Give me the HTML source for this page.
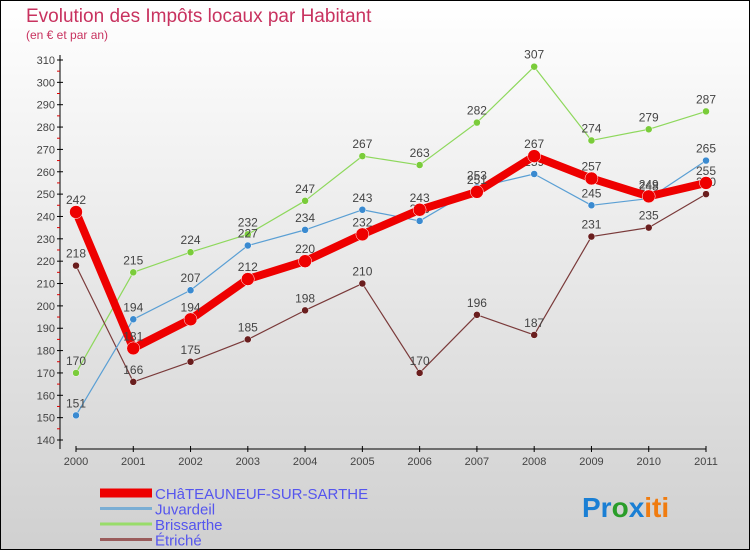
<!DOCTYPE html>
<html><head><meta charset="utf-8"><style>
body{margin:0}
#c{width:750px;height:550px;position:relative;font-family:"Liberation Sans",sans-serif;}
</style></head><body>
<div id="c">
<svg id="s" width="750" height="550" xmlns="http://www.w3.org/2000/svg">
<defs><linearGradient id="bg" x1="0" y1="0" x2="0" y2="1"><stop offset="0" stop-color="#ffffff"/><stop offset="1" stop-color="#d0d0d0"/></linearGradient></defs>
<rect x="0.5" y="0.5" width="749" height="549" fill="url(#bg)" stroke="#000"/>
<text x="26" y="22" font-size="19" fill="#c8325f">Evolution des Impôts locaux par Habitant</text>
<text x="26" y="39" font-size="12" fill="#c8325f">(en € et par an)</text>
<g id="axes"></g><g id="series"></g><g id="legend"></g>
<text x="582" y="517" font-size="28" font-weight="bold"><tspan fill="#1a7fd4">Pr</tspan><tspan fill="#2a9d2a">o</tspan><tspan fill="#1a7fd4">x</tspan><tspan fill="#f07c10">iti</tspan></text>
</svg>
</div>
<script>
const years=[2000,2001,2002,2003,2004,2005,2006,2007,2008,2009,2010,2011];
const yTicks=[140,150,160,170,180,190,200,210,220,230,240,250,260,270,280,290,300,310];
const seriesNames=["CHâTEAUNEUF-SUR-SARTHE","Juvardeil","Brissarthe","Étriché"];
const chateauneuf=[242,181,194,212,220,232,243,251,267,257,249,255];
const juvardeil=[151,194,207,227,234,243,238,253,259,245,248,265];
const brissarthe=[170,215,224,232,247,267,263,282,307,274,279,287];
const etriche=[218,166,175,185,198,210,170,196,187,231,235,250];
const NS="http://www.w3.org/2000/svg";
const xS=i=>76+i*(630/11);
const yS=v=>440-(v-140)*(380/170);
function mk(p,t,a){const e=document.createElementNS(NS,t);for(const k in a)e.setAttribute(k,a[k]);p.appendChild(e);return e;}
const ax=document.getElementById('axes');
let l=mk(ax,'line',{x1:60,y1:55,x2:60,y2:449,stroke:'#000'});


l=mk(ax,'line',{x1:76,y1:449,x2:706,y2:449,stroke:'#000'});


yTicks.forEach(v=>{const y=yS(v);
 mk(ax,'line',{x1:57,y1:y,x2:63,y2:y,stroke:'#000'});
 if(v<310)mk(ax,'line',{x1:57,y1:y-11.2,x2:60,y2:y-11.2,stroke:'#d00'});
 const t=mk(ax,'text',{x:55,y:y+4,'font-size':11,fill:'#444','text-anchor':'end'});t.textContent=v;
 
 });
years.forEach((yr,i)=>{const x=xS(i);
 mk(ax,'line',{x1:x,y1:446,x2:x,y2:452,stroke:'#000'});
 const t=mk(ax,'text',{x:x,y:465,'font-size':11,fill:'#444','text-anchor':'middle'});t.textContent=yr;
 
 });
const sg=document.getElementById('series');
function draw(data,color,w,r,dot,name){
 const g=mk(sg,'g',{});
 
 
 mk(g,'polyline',{points:data.map((v,i)=>xS(i)+','+yS(v)).join(' '),fill:'none',stroke:color,'stroke-width':w,'stroke-linejoin':'round'});
 data.forEach((v,i)=>{const c=mk(g,'circle',{cx:xS(i),cy:yS(v),r:r,fill:dot,stroke:'#fff','stroke-width':0.5});
  
  
  const t=mk(g,'text',{x:xS(i),y:yS(v)-8,'font-size':12,fill:'#444','text-anchor':'middle'});t.textContent=v;
  
  });
}
draw(brissarthe,'#8ed85c',1.2,3.5,'#7acc3a','brissarthe-series');
draw(etriche,'#7a3a3a',1.2,3.5,'#6a1e1e','etriche-series');
draw(juvardeil,'#5a9fd4',1.2,3.5,'#3a8ad0','juvardeil-series');
draw(chateauneuf,'#ee0000',8,6.5,'#ee0000','chateauneuf-series');
const lg=document.getElementById('legend');
const cols=['#ee0000','#7aaed4','#98dc6a','#9a5c5c'];const ws=[9,3,3,3];
seriesNames.forEach((n,i)=>{const y=493+i*15.5;
 const g=mk(lg,'g',{});
 
 
 mk(g,'line',{x1:100,y1:y,x2:152,y2:y,stroke:cols[i],'stroke-width':ws[i]});
 const t=mk(g,'text',{x:155,y:y+6,'font-size':15,fill:'#5555ee'});t.textContent=n;});
</script>
</body></html>
